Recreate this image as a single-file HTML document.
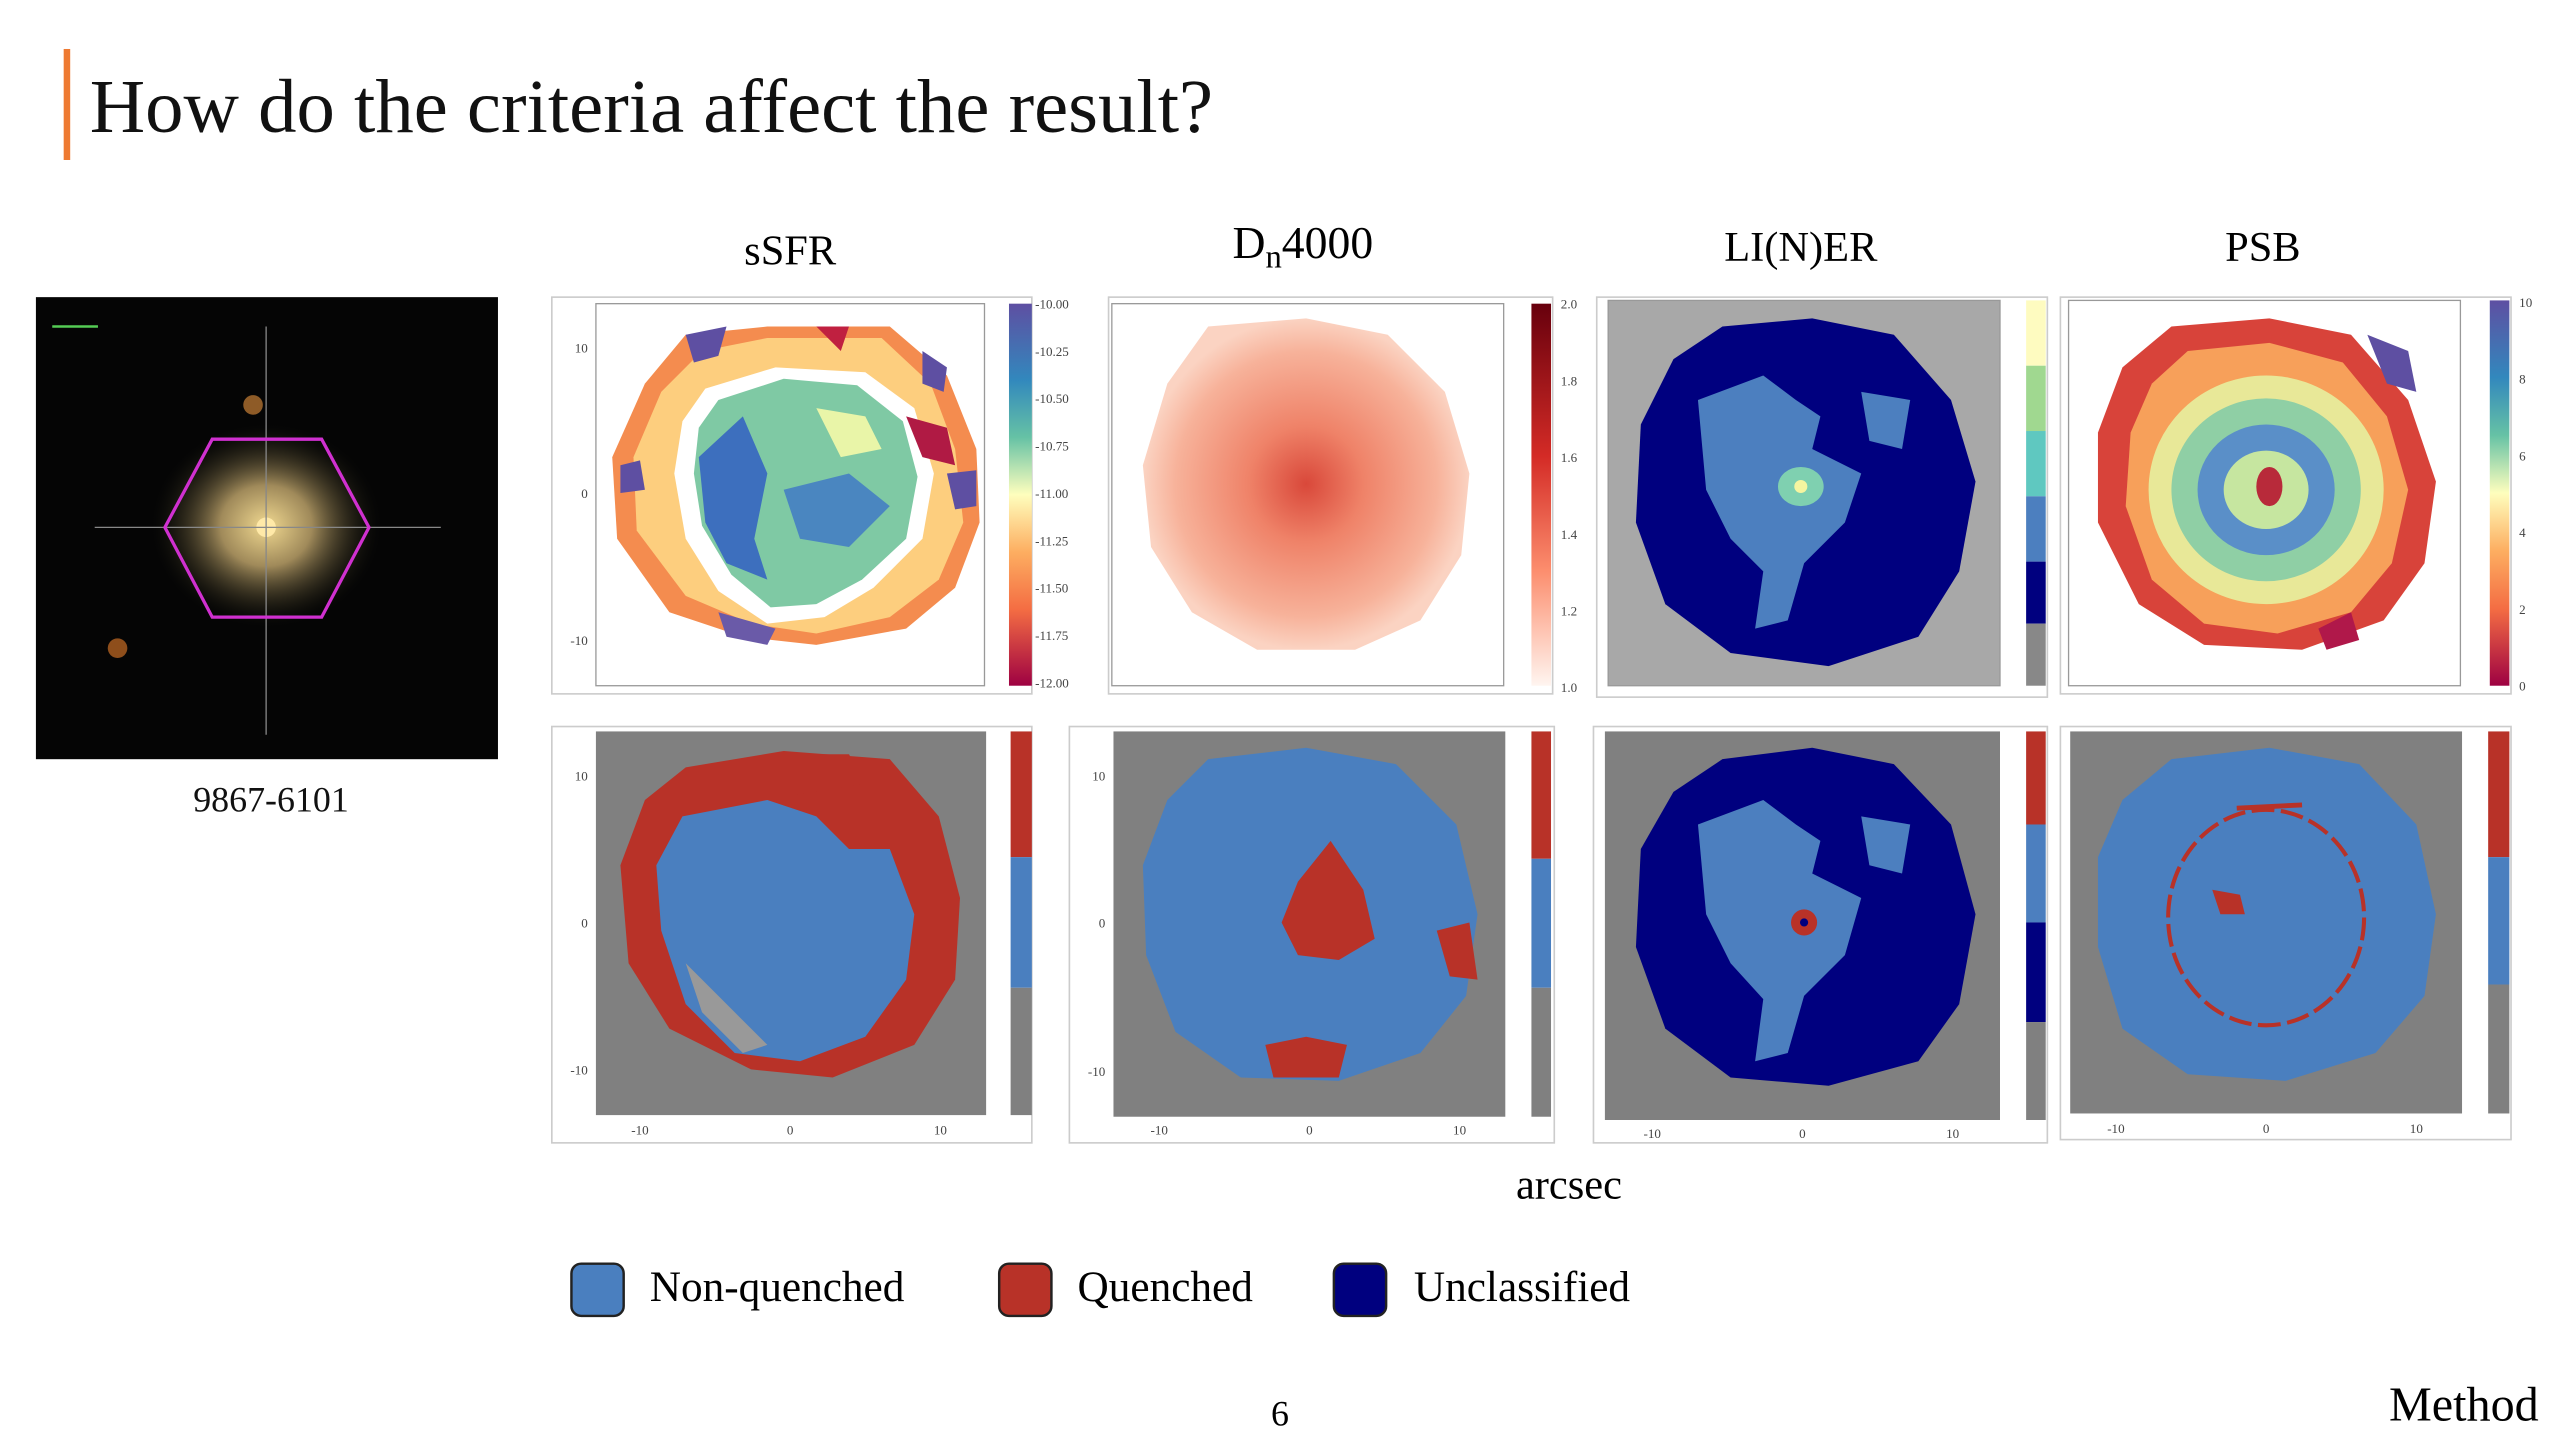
<!DOCTYPE html>
<html><head><meta charset="utf-8"><style>
html,body{margin:0;padding:0;background:#fff;}
svg{display:block;}
text{font-family:"Liberation Serif",serif;}
.tk{font-family:"Liberation Sans",sans-serif;font-size:8px;fill:#444;}
</style></head><body>
<svg width="2560" height="1440" viewBox="0 0 1568 882" xmlns="http://www.w3.org/2000/svg">
<defs>
<linearGradient id="spec" x1="0" y1="0" x2="0" y2="1">
<stop offset="0" stop-color="#5e4fa2"/><stop offset="0.2" stop-color="#3288bd"/><stop offset="0.35" stop-color="#66c2a5"/><stop offset="0.5" stop-color="#fefebd"/><stop offset="0.65" stop-color="#fdae61"/><stop offset="0.8" stop-color="#f46d43"/><stop offset="1" stop-color="#9e0142"/></linearGradient>
<linearGradient id="reds" x1="0" y1="0" x2="0" y2="1">
<stop offset="0" stop-color="#67000d"/><stop offset="0.4" stop-color="#d42b26"/><stop offset="0.7" stop-color="#fc8e6e"/><stop offset="1" stop-color="#fff5f0"/></linearGradient>
<radialGradient id="dn" cx="0.5" cy="0.5" r="0.5">
<stop offset="0" stop-color="#d9483a"/><stop offset="0.35" stop-color="#ef8268"/><stop offset="0.8" stop-color="#f7b29a"/><stop offset="1" stop-color="#fbd3c2"/></radialGradient>
<radialGradient id="gal" cx="0.5" cy="0.5" r="0.5">
<stop offset="0" stop-color="#f0d890"/><stop offset="0.4" stop-color="#a08a5a"/><stop offset="1" stop-color="#1a1a10" stop-opacity="0"/></radialGradient>
</defs>

<rect x="39" y="30" width="4" height="68" fill="#ee7a32"/>
<text x="55" y="81" font-size="47" fill="#111">How do the criteria affect the result?</text>

<g>
<rect x="22" y="182" width="283" height="283" fill="#050505"/>
<ellipse cx="163" cy="322" rx="70" ry="62" fill="url(#gal)"/>
<circle cx="163" cy="323" r="6" fill="#ffe9a8"/>
<circle cx="155" cy="248" r="6" fill="#b07030" opacity="0.8"/>
<circle cx="72" cy="397" r="6" fill="#b06020" opacity="0.8"/>
<line x1="58" y1="323" x2="270" y2="323" stroke="#888" stroke-width="0.8"/>
<line x1="163" y1="200" x2="163" y2="450" stroke="#888" stroke-width="0.8"/>
<polygon points="130,269 197,269 226,323 197,378 130,378 101,323" fill="none" stroke="#d030d0" stroke-width="2"/>
<line x1="32" y1="200" x2="60" y2="200" stroke="#5c5" stroke-width="1.5"/>
</g>
<text x="166" y="497" font-size="22" text-anchor="middle" fill="#111">9867-6101</text>

<text x="484" y="162" font-size="26" text-anchor="middle">sSFR</text>
<text x="798" y="158" font-size="28" text-anchor="middle">D<tspan font-size="20" dy="6">n</tspan><tspan dy="-6">4000</tspan></text>
<text x="1103" y="160" font-size="26" text-anchor="middle">LI(N)ER</text>
<text x="1386" y="160" font-size="26" text-anchor="middle">PSB</text>

<g fill="none" stroke="#ccc" stroke-width="1">
<rect x="338" y="182" width="294" height="243"/><rect x="679" y="182" width="272" height="243"/>
<rect x="978" y="182" width="276" height="245"/><rect x="1262" y="182" width="276" height="243"/>
<rect x="338" y="445" width="294" height="255"/><rect x="655" y="445" width="297" height="255"/>
<rect x="976" y="445" width="278" height="255"/><rect x="1262" y="445" width="276" height="253"/>
</g>

<g>
<rect x="365" y="186" width="238" height="234" fill="#fff" stroke="#999" stroke-width="0.8"/>
<polygon points="420,205 470,200 545,200 580,230 598,275 600,320 585,360 555,385 500,395 455,390 410,375 378,330 375,280 395,235" fill="#f48c4f"/>
<polygon points="430,215 470,207 540,207 570,235 585,275 590,320 575,355 545,378 500,388 460,382 420,365 390,325 388,280 405,240" fill="#fdce7e"/>
<polygon points="432,238 475,225 530,228 560,250 572,290 565,330 535,360 505,378 470,382 440,362 420,330 413,290 418,258" fill="#ffffff"/>
<polygon points="440,245 480,232 525,236 553,258 562,292 555,330 528,355 500,370 472,372 448,352 430,322 425,290 428,262" fill="#7fc9a4"/>
<polygon points="428,280 455,255 470,290 462,330 470,355 445,345 432,320" fill="#3d6fbe"/>
<polygon points="480,300 520,290 545,310 520,335 490,330" fill="#4a86c0"/>
<polygon points="500,250 530,255 540,275 515,280" fill="#e9f5a8"/>
<polygon points="380,285 392,282 395,300 380,302" fill="#5e4fa2"/>
<polygon points="420,205 445,200 440,218 425,222" fill="#5e4fa2"/>
<polygon points="565,215 580,225 578,240 565,235" fill="#5e4fa2"/>
<polygon points="580,290 598,288 598,310 585,312" fill="#5e4fa2"/>
<polygon points="555,255 580,262 585,285 565,280" fill="#b01a44"/>
<polygon points="500,200 520,200 515,215" fill="#c02040"/>
<polygon points="440,375 475,385 470,395 445,390" fill="#6a5aa8"/>
</g>
<rect x="618" y="186" width="14" height="234" fill="url(#spec)"/>
<g class="tk">
<text x="634" y="189">-10.00</text><text x="634" y="218">-10.25</text><text x="634" y="247">-10.50</text><text x="634" y="276">-10.75</text><text x="634" y="305">-11.00</text><text x="634" y="334">-11.25</text><text x="634" y="363">-11.50</text><text x="634" y="392">-11.75</text><text x="634" y="421">-12.00</text>
</g>
<g class="tk" text-anchor="end"><text x="360" y="216">10</text><text x="360" y="305">0</text><text x="360" y="395">-10</text></g>

<g>
<rect x="681" y="186" width="240" height="234" fill="#fff" stroke="#999" stroke-width="0.8"/>
<polygon points="740,200 800,195 850,205 885,240 900,290 895,340 870,380 830,398 770,398 730,375 705,335 700,285 715,235" fill="url(#dn)"/>
</g>
<rect x="938" y="186" width="12" height="234" fill="url(#reds)"/>
<g class="tk"><text x="956" y="189">2.0</text><text x="956" y="236">1.8</text><text x="956" y="283">1.6</text><text x="956" y="330">1.4</text><text x="956" y="377">1.2</text><text x="956" y="424">1.0</text></g>

<g>
<rect x="985" y="184" width="240" height="236" fill="#a8a8a8" stroke="#999" stroke-width="0.8"/>
<polygon points="1055,200 1110,195 1160,205 1195,245 1210,295 1200,350 1175,390 1120,408 1060,400 1020,370 1002,320 1005,260 1025,220" fill="#00007f"/>
<polygon points="1040,245 1080,230 1100,245 1115,255 1110,275 1140,290 1130,320 1105,345 1095,380 1075,385 1080,350 1060,330 1045,300" fill="#4c7fbf"/>
<polygon points="1140,240 1170,245 1165,275 1145,270" fill="#4c7fbf"/>
<ellipse cx="1103" cy="298" rx="14" ry="12" fill="#7fd0b0"/>
<circle cx="1103" cy="298" r="4" fill="#f5f5a0"/>
</g>
<g>
<rect x="1241" y="184" width="12" height="40" fill="#fefbc0"/><rect x="1241" y="224" width="12" height="40" fill="#a0d890"/><rect x="1241" y="264" width="12" height="40" fill="#5fc8c0"/><rect x="1241" y="304" width="12" height="40" fill="#4c7fbf"/><rect x="1241" y="344" width="12" height="38" fill="#00007f"/><rect x="1241" y="382" width="12" height="38" fill="#888"/>
</g>

<g>
<rect x="1267" y="184" width="240" height="236" fill="#fff" stroke="#999" stroke-width="0.8"/>
<polygon points="1330,200 1390,195 1440,205 1475,245 1492,295 1485,345 1460,380 1410,398 1350,395 1310,370 1285,320 1285,265 1300,225" fill="#d8433a"/>
<polygon points="1340,215 1390,210 1435,222 1462,255 1475,300 1465,345 1440,375 1395,388 1350,382 1318,355 1302,310 1305,265 1318,235" fill="#f7a05a"/>
<ellipse cx="1388" cy="300" rx="72" ry="70" fill="#e8e898"/>
<ellipse cx="1388" cy="300" rx="58" ry="56" fill="#8fcfa5"/>
<ellipse cx="1388" cy="300" rx="42" ry="40" fill="#5a8fc8"/>
<ellipse cx="1388" cy="300" rx="26" ry="24" fill="#c6e6a0"/>
<ellipse cx="1390" cy="298" rx="8" ry="12" fill="#b82a3a"/>
<polygon points="1450,205 1475,215 1480,240 1462,235" fill="#5e4fa2"/>
<polygon points="1420,385 1440,375 1445,392 1425,398" fill="#b0184a"/>
</g>
<rect x="1525" y="184" width="12" height="236" fill="url(#spec)"/>
<g class="tk"><text x="1543" y="188">10</text><text x="1543" y="235">8</text><text x="1543" y="282">6</text><text x="1543" y="329">4</text><text x="1543" y="376">2</text><text x="1543" y="423">0</text></g>

<g>
<rect x="365" y="448" width="239" height="235" fill="#808080"/>
<polygon points="420,470 480,460 545,465 575,500 588,550 585,600 560,640 510,660 460,655 410,630 385,590 380,530 395,490" fill="#b83228"/>
<polygon points="418,500 470,490 500,500 520,520 545,520 560,560 555,600 530,635 490,650 450,645 420,615 405,570 402,530" fill="#4a7fbf"/>
<polygon points="470,462 520,462 530,480 480,488" fill="#b83228"/>
<polygon points="420,590 440,610 470,640 455,645 430,620" fill="#999"/>
</g>
<g><rect x="619" y="448" width="13" height="77" fill="#b83228"/><rect x="619" y="525" width="13" height="80" fill="#4a7fbf"/><rect x="619" y="605" width="13" height="78" fill="#808080"/></g>
<g class="tk" text-anchor="end"><text x="360" y="478">10</text><text x="360" y="568">0</text><text x="360" y="658">-10</text></g>
<g class="tk" text-anchor="middle"><text x="392" y="695">-10</text><text x="484" y="695">0</text><text x="576" y="695">10</text></g>

<g>
<rect x="682" y="448" width="240" height="236" fill="#808080"/>
<polygon points="740,465 800,458 855,468 892,505 905,560 898,610 870,645 820,662 760,660 720,632 702,585 700,530 715,490" fill="#4a7fbf"/>
<polygon points="815,515 835,545 842,575 820,588 795,585 785,565 795,540" fill="#b83228"/>
<polygon points="775,640 800,635 825,640 820,660 780,660" fill="#b83228"/>
<polygon points="880,570 900,565 905,600 888,598" fill="#b83228"/>
</g>
<g><rect x="938" y="448" width="12" height="78" fill="#b83228"/><rect x="938" y="526" width="12" height="79" fill="#4a7fbf"/><rect x="938" y="605" width="12" height="79" fill="#808080"/></g>
<g class="tk" text-anchor="end"><text x="677" y="478">10</text><text x="677" y="568">0</text><text x="677" y="659">-10</text></g>
<g class="tk" text-anchor="middle"><text x="710" y="695">-10</text><text x="802" y="695">0</text><text x="894" y="695">10</text></g>

<g>
<rect x="983" y="448" width="242" height="238" fill="#808080"/>
<polygon points="1055,465 1110,458 1160,468 1195,505 1210,560 1200,615 1175,650 1120,665 1060,660 1020,630 1002,580 1005,520 1025,485" fill="#00007f"/>
<polygon points="1040,505 1080,490 1100,505 1115,515 1110,535 1140,550 1130,585 1105,610 1095,645 1075,650 1080,612 1060,590 1045,560" fill="#4c7fbf"/>
<polygon points="1140,500 1170,505 1165,535 1145,530" fill="#4c7fbf"/>
<circle cx="1105" cy="565" r="8" fill="#b83228"/>
<circle cx="1105" cy="565" r="2.5" fill="#00007f"/>
</g>
<g><rect x="1241" y="448" width="12" height="57" fill="#b83228"/><rect x="1241" y="505" width="12" height="60" fill="#4c7fbf"/><rect x="1241" y="565" width="12" height="61" fill="#00007f"/><rect x="1241" y="626" width="12" height="60" fill="#808080"/></g>
<g class="tk" text-anchor="middle"><text x="1012" y="697">-10</text><text x="1104" y="697">0</text><text x="1196" y="697">10</text></g>

<g>
<rect x="1268" y="448" width="240" height="234" fill="#808080"/>
<polygon points="1330,465 1390,458 1445,468 1480,505 1492,560 1485,610 1455,645 1400,662 1340,658 1300,630 1285,580 1285,525 1300,490" fill="#4a7fbf"/>
<ellipse cx="1388" cy="562" rx="60" ry="66" fill="none" stroke="#b83228" stroke-width="2.5" stroke-dasharray="14 4"/>
<polygon points="1355,545 1372,548 1375,560 1360,560" fill="#b83228"/>
<line x1="1370" y1="495" x2="1410" y2="493" stroke="#b83228" stroke-width="3"/>
</g>
<g><rect x="1524" y="448" width="13" height="77" fill="#b83228"/><rect x="1524" y="525" width="13" height="78" fill="#4a7fbf"/><rect x="1524" y="603" width="13" height="79" fill="#808080"/></g>
<g class="tk" text-anchor="middle"><text x="1296" y="694">-10</text><text x="1388" y="694">0</text><text x="1480" y="694">10</text></g>

<text x="961" y="734" font-size="26" text-anchor="middle">arcsec</text>

<g>
<g><rect x="350" y="774" width="32" height="32" rx="6" fill="#4a7fbf" stroke="#222" stroke-width="1.5"/><text x="398" y="797" font-size="26.5">Non-quenched</text></g>
<g><rect x="612" y="774" width="32" height="32" rx="6" fill="#b83228" stroke="#222" stroke-width="1.5"/><text x="660" y="797" font-size="26.5">Quenched</text></g>
<g><rect x="817" y="774" width="32" height="32" rx="6" fill="#00007f" stroke="#222" stroke-width="1.5"/><text x="866" y="797" font-size="26.5">Unclassified</text></g>
</g>

<text x="784" y="873" font-size="22" text-anchor="middle">6</text>
<text x="1555" y="870" font-size="29.5" text-anchor="end">Method</text>
</svg>
</body></html>
